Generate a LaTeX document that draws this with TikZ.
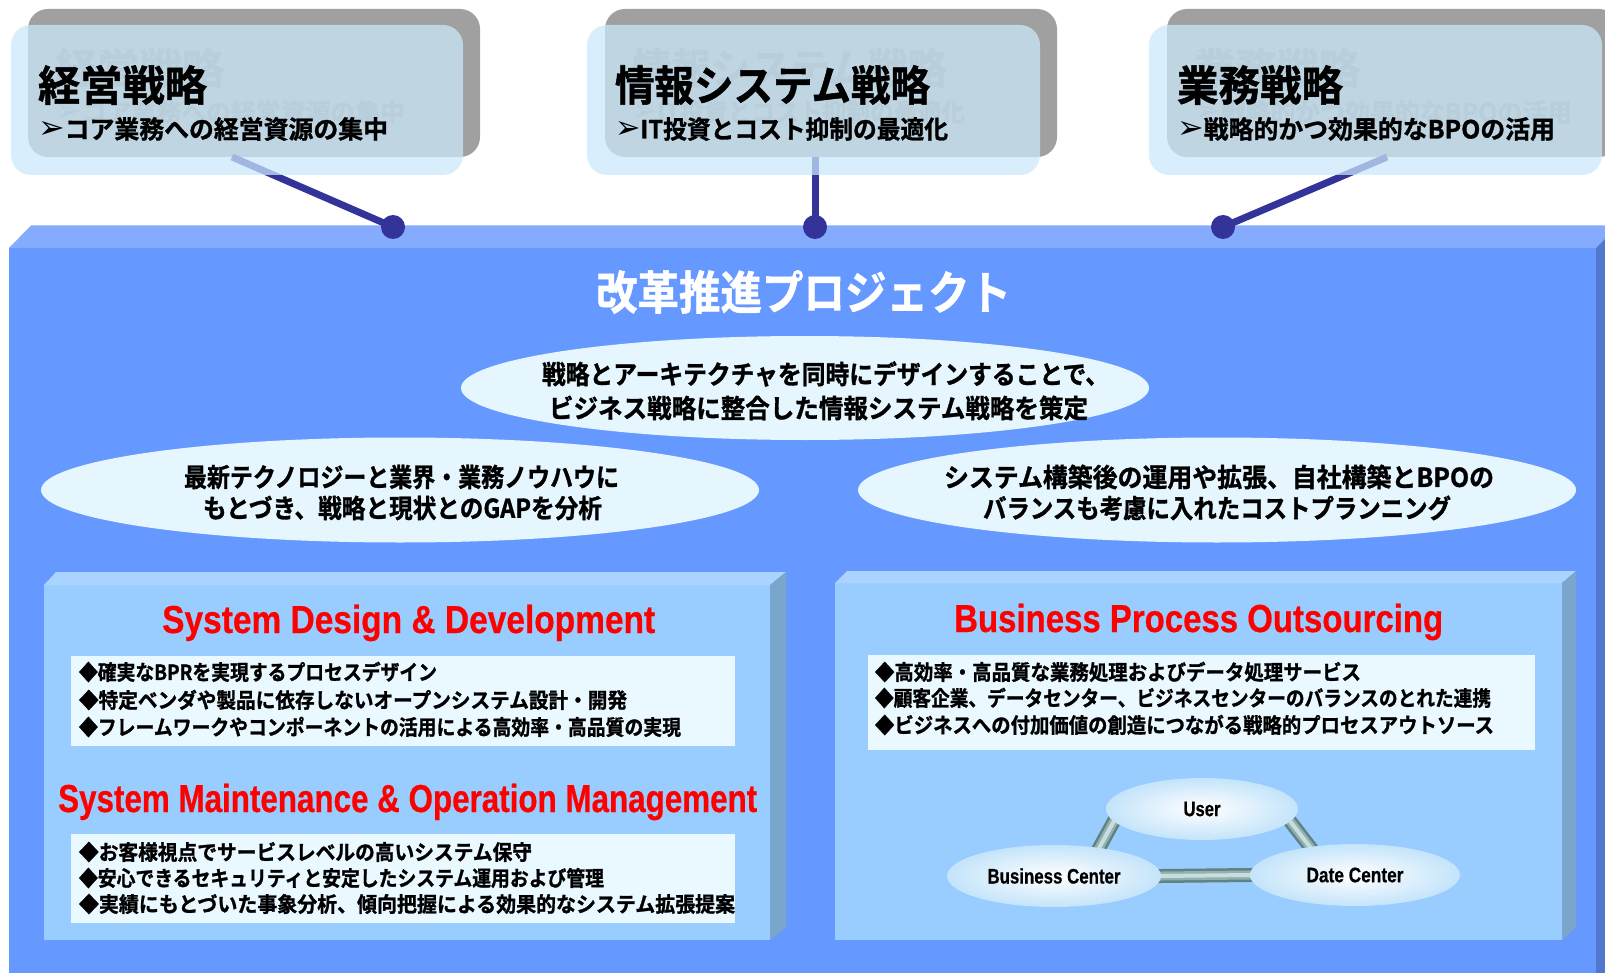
\documentclass[tikz,border=0pt]{standalone}
\usepackage{fontspec}
\usepackage{graphicx}
\usetikzlibrary{shapes.geometric}
\newfontfamily\jpb{Noto Sans CJK JP Bold}[FakeBold=1.2]
\newfontfamily\lsb{Liberation Sans Bold}[FakeBold=0.6]
\newfontfamily\dv{DejaVu Sans}
\newcommand\rz[2]{\resizebox{#1pt}{\height}{#2}}
\newcommand\arw{{\dv\fontsize{32}{32}\selectfont ➢}}
\definecolor{shadowgrey}{HTML}{A0A0A0}
\definecolor{frontblue}{RGB}{203,233,251}
\definecolor{ghostgrey}{HTML}{868686}
\definecolor{navy}{HTML}{333399}
\definecolor{panelfront}{HTML}{6699FF}
\definecolor{paneltop}{HTML}{85ABFF}
\definecolor{panelside}{HTML}{5078CC}
\definecolor{boxfront}{HTML}{99CCFF}
\definecolor{boxtop}{HTML}{AAD4FF}
\definecolor{boxside}{HTML}{7BA6CC}
\definecolor{whitebox}{HTML}{EAF8FF}
\definecolor{bigell}{HTML}{E6F6FE}
\definecolor{smallell}{HTML}{C4E4FA}
\definecolor{headred}{HTML}{FF0000}
\definecolor{pipedark}{HTML}{5F8282}
\definecolor{pipemid}{HTML}{93B0B0}
\definecolor{pipelight}{HTML}{C8DDDD}
\pgfdeclarelayer{front}
\pgfsetlayers{main,front}
\begin{document}
\begin{tikzpicture}[x=1pt,y=-1pt,
  txt/.style={anchor=west,inner sep=0pt,outer sep=0pt},
  ttl/.style={txt,font=\jpb\fontsize{42}{42}\selectfont},
  sub/.style={txt,font=\jpb\fontsize{25}{25}\selectfont},
  ghostttl/.style={ttl,text=ghostgrey},
  ghostsub/.style={sub,text=ghostgrey},
  ptitle/.style={anchor=center,inner sep=0pt,text=white,font=\jpb\fontsize{46}{46}\selectfont},
  elltxt/.style={txt,font=\jpb\fontsize{26}{26}\selectfont},
  bul/.style={txt,font=\jpb\fontsize{21}{21}\selectfont},
  head/.style={anchor=base west,inner sep=0pt,text=headred,font=\lsb\fontsize{39}{39}\selectfont},
  trilabel/.style={ellipse,inner sep=0pt,shade,inner color=white,outer color=smallell,font=\lsb\fontsize{21}{21}\selectfont},
  bigellipse/.style={ellipse,fill=bigell,inner sep=0pt},
  shadowbox/.style={fill=shadowgrey,rounded corners=20pt},
  frontbox/.style={fill=frontblue,fill opacity=0.73,rounded corners=20pt},
  conn/.style={draw=navy,line width=7pt},
  dot/.style={circle,fill=navy,minimum size=24pt,inner sep=0pt},
  pipe/.style={draw=pipedark,line width=14pt,shorten <=-14pt,shorten >=-14pt,
    postaction={draw=pipemid,line width=9pt,shorten <=-14pt,shorten >=-14pt},
    postaction={draw=pipelight,line width=4pt,shorten <=-14pt,shorten >=-14pt}}
]
\useasboundingbox (0,0) rectangle (1605,973);
\clip (0,0) rectangle (1605,973);
\fill[white] (0,0) rectangle (1605,973);

% main panel
\fill[panelfront] (9,248) rectangle (1596,980);
\fill[paneltop] (9,248) -- (31,225.5) -- (1618,225.5) -- (1596,248) -- cycle;
\fill[panelside] (1596,248) -- (1618,225.5) -- (1618,980) -- (1596,980) -- cycle;
\node[ptitle] (ptitle) at (803.5,292) {\rz{415}{改革推進プロジェクト}};

% big ellipses
\node[bigellipse,minimum width=688pt,minimum height=104pt] (e1) at (805,388) {};
\node[elltxt] (e1a) at (542,374) {\rz{567}{戦略とアーキテクチャを同時にデザインすることで、}};
\node[elltxt] (e1b) at (549,408) {\rz{539}{ビジネス戦略に整合した情報システム戦略を策定}};
\node[bigellipse,minimum width=718pt,minimum height=105pt] (e2) at (400,490) {};
\node[elltxt] (e2a) at (184,477) {\rz{435}{最新テクノロジーと業界・業務ノウハウに}};
\node[elltxt] (e2b) at (203,508) {\rz{399}{もとづき、戦略と現状とのGAPを分析}};
\node[bigellipse,minimum width=718pt,minimum height=105pt] (e3) at (1217,490) {};
\node[elltxt] (e3a) at (944,477) {\rz{550}{システム構築後の運用や拡張、自社構築とBPOの}};
\node[elltxt] (e3b) at (983,508) {\rz{468}{バランスも考慮に入れたコストプランニング}};

% left lower box
\fill[boxfront] (44,585) rectangle (770,940);
\fill[boxtop] (44,585) -- (56,572) -- (786,572) -- (770,585) -- cycle;
\fill[boxside] (770,585) -- (786,572) -- (786,927) -- (770,940) -- cycle;
\node[head] (h1) at (162,633) {\rz{493}{System Design \& Development}};
\fill[whitebox] (71,656) rectangle (735,746);
\node[bul] (b1) at (79,672) {\rz{358}{◆確実なBPRを実現するプロセスデザイン}};
\node[bul] (b2) at (79,700) {\rz{548}{◆特定ベンダや製品に依存しないオープンシステム設計・開発}};
\node[bul] (b3) at (79,727) {\rz{602}{◆フレームワークやコンポーネントの活用による高効率・高品質の実現}};
\node[head] (h2) at (58,812) {\rz{699}{System Maintenance \& Operation Management}};
\fill[whitebox] (71,834) rectangle (735,923);
\node[bul] (b4) at (79,852) {\rz{453}{◆お客様視点でサービスレベルの高いシステム保守}};
\node[bul] (b5) at (79,878) {\rz{525}{◆安心できるセキュリティと安定したシステム運用および管理}};
\node[bul] (b6) at (79,904) {\rz{656}{◆実績にもとづいた事象分析、傾向把握による効果的なシステム拡張提案}};

% right lower box
\fill[boxfront] (835,583) rectangle (1562,940);
\fill[boxtop] (835,583) -- (847,571) -- (1576,571) -- (1562,583) -- cycle;
\fill[boxside] (1562,583) -- (1576,571) -- (1576,927) -- (1562,940) -- cycle;
\node[head] (h3) at (954,632) {\rz{489}{Business Process Outsourcing}};
\fill[whitebox] (868,655) rectangle (1535,750);
\node[bul] (b7) at (875,672) {\rz{486}{◆高効率・高品質な業務処理およびデータ処理サービス}};
\node[bul] (b8) at (875,698) {\rz{616}{◆顧客企業、データセンター、ビジネスセンターのバランスのとれた連携}};
\node[bul] (b9) at (875,725) {\rz{619}{◆ビジネスへの付加価値の創造につながる戦略的プロセスアウトソース}};

% triangle
\begin{pgfonlayer}{front}
\node[trilabel,minimum width=192pt,minimum height=62pt] (user) at (1202,809) {\rz{37}{User}};
\node[trilabel,minimum width=214pt,minimum height=62pt] (bc) at (1054,876) {\rz{133}{Business Center}};
\node[trilabel,minimum width=210pt,minimum height=62pt] (dc) at (1355,875) {\rz{97}{Date Center}};
\end{pgfonlayer}
\draw[pipe] (user.188) -- (bc.32);
\draw[pipe] (user.352) -- (dc.148);
\draw[pipe] (bc.east) -- (dc.west);

% top boxes: shadows and ghost texts
\fill[shadowbox] (28,9) rectangle (480,157);
\fill[shadowbox] (605,9) rectangle (1057,157);
\fill[shadowbox] (1167,9) rectangle (1619,157);
\node[ghostttl] (g1t) at (55,68) {\rz{169}{経営戦略}};
\node[ghostsub] (g1s) at (55,112) {\rz{350}{\arw コア業務への経営資源の集中}};
\node[ghostttl] (g2t) at (632,68) {\rz{315}{情報システム戦略}};
\node[ghostsub] (g2s) at (632,112) {\rz{333}{\arw IT投資とコスト抑制の最適化}};
\node[ghostttl] (g3t) at (1194,68) {\rz{166}{業務戦略}};
\node[ghostsub] (g3s) at (1194,112) {\rz{378}{\arw 戦略的かつ効果的なBPOの活用}};

% connectors
\coordinate (c1) at (232,157);
\coordinate (c2) at (815,157);
\coordinate (c3) at (1387,157);
\node[dot] (d1) at (393,227) {};
\node[dot] (d2) at (815,227) {};
\node[dot] (d3) at (1223,227) {};
\draw[conn] (c1) -- (d1.center);
\draw[conn] (c2) -- (d2.center);
\draw[conn] (c3) -- (d3.center);

% front boxes and texts
\fill[frontbox] (11,25) rectangle (463,175);
\fill[frontbox] (587,25) rectangle (1040,175);
\fill[frontbox] (1149,25) rectangle (1602,175);
\node[ttl] (t1) at (38,85) {\rz{169}{経営戦略}};
\node[sub] (s1) at (38,129) {\rz{350}{\arw コア業務への経営資源の集中}};
\node[ttl] (t2) at (615,85) {\rz{315}{情報システム戦略}};
\node[sub] (s2) at (615,129) {\rz{333}{\arw IT投資とコスト抑制の最適化}};
\node[ttl] (t3) at (1177,85) {\rz{166}{業務戦略}};
\node[sub] (s3) at (1177,129) {\rz{378}{\arw 戦略的かつ効果的なBPOの活用}};
\end{tikzpicture}
\end{document}
